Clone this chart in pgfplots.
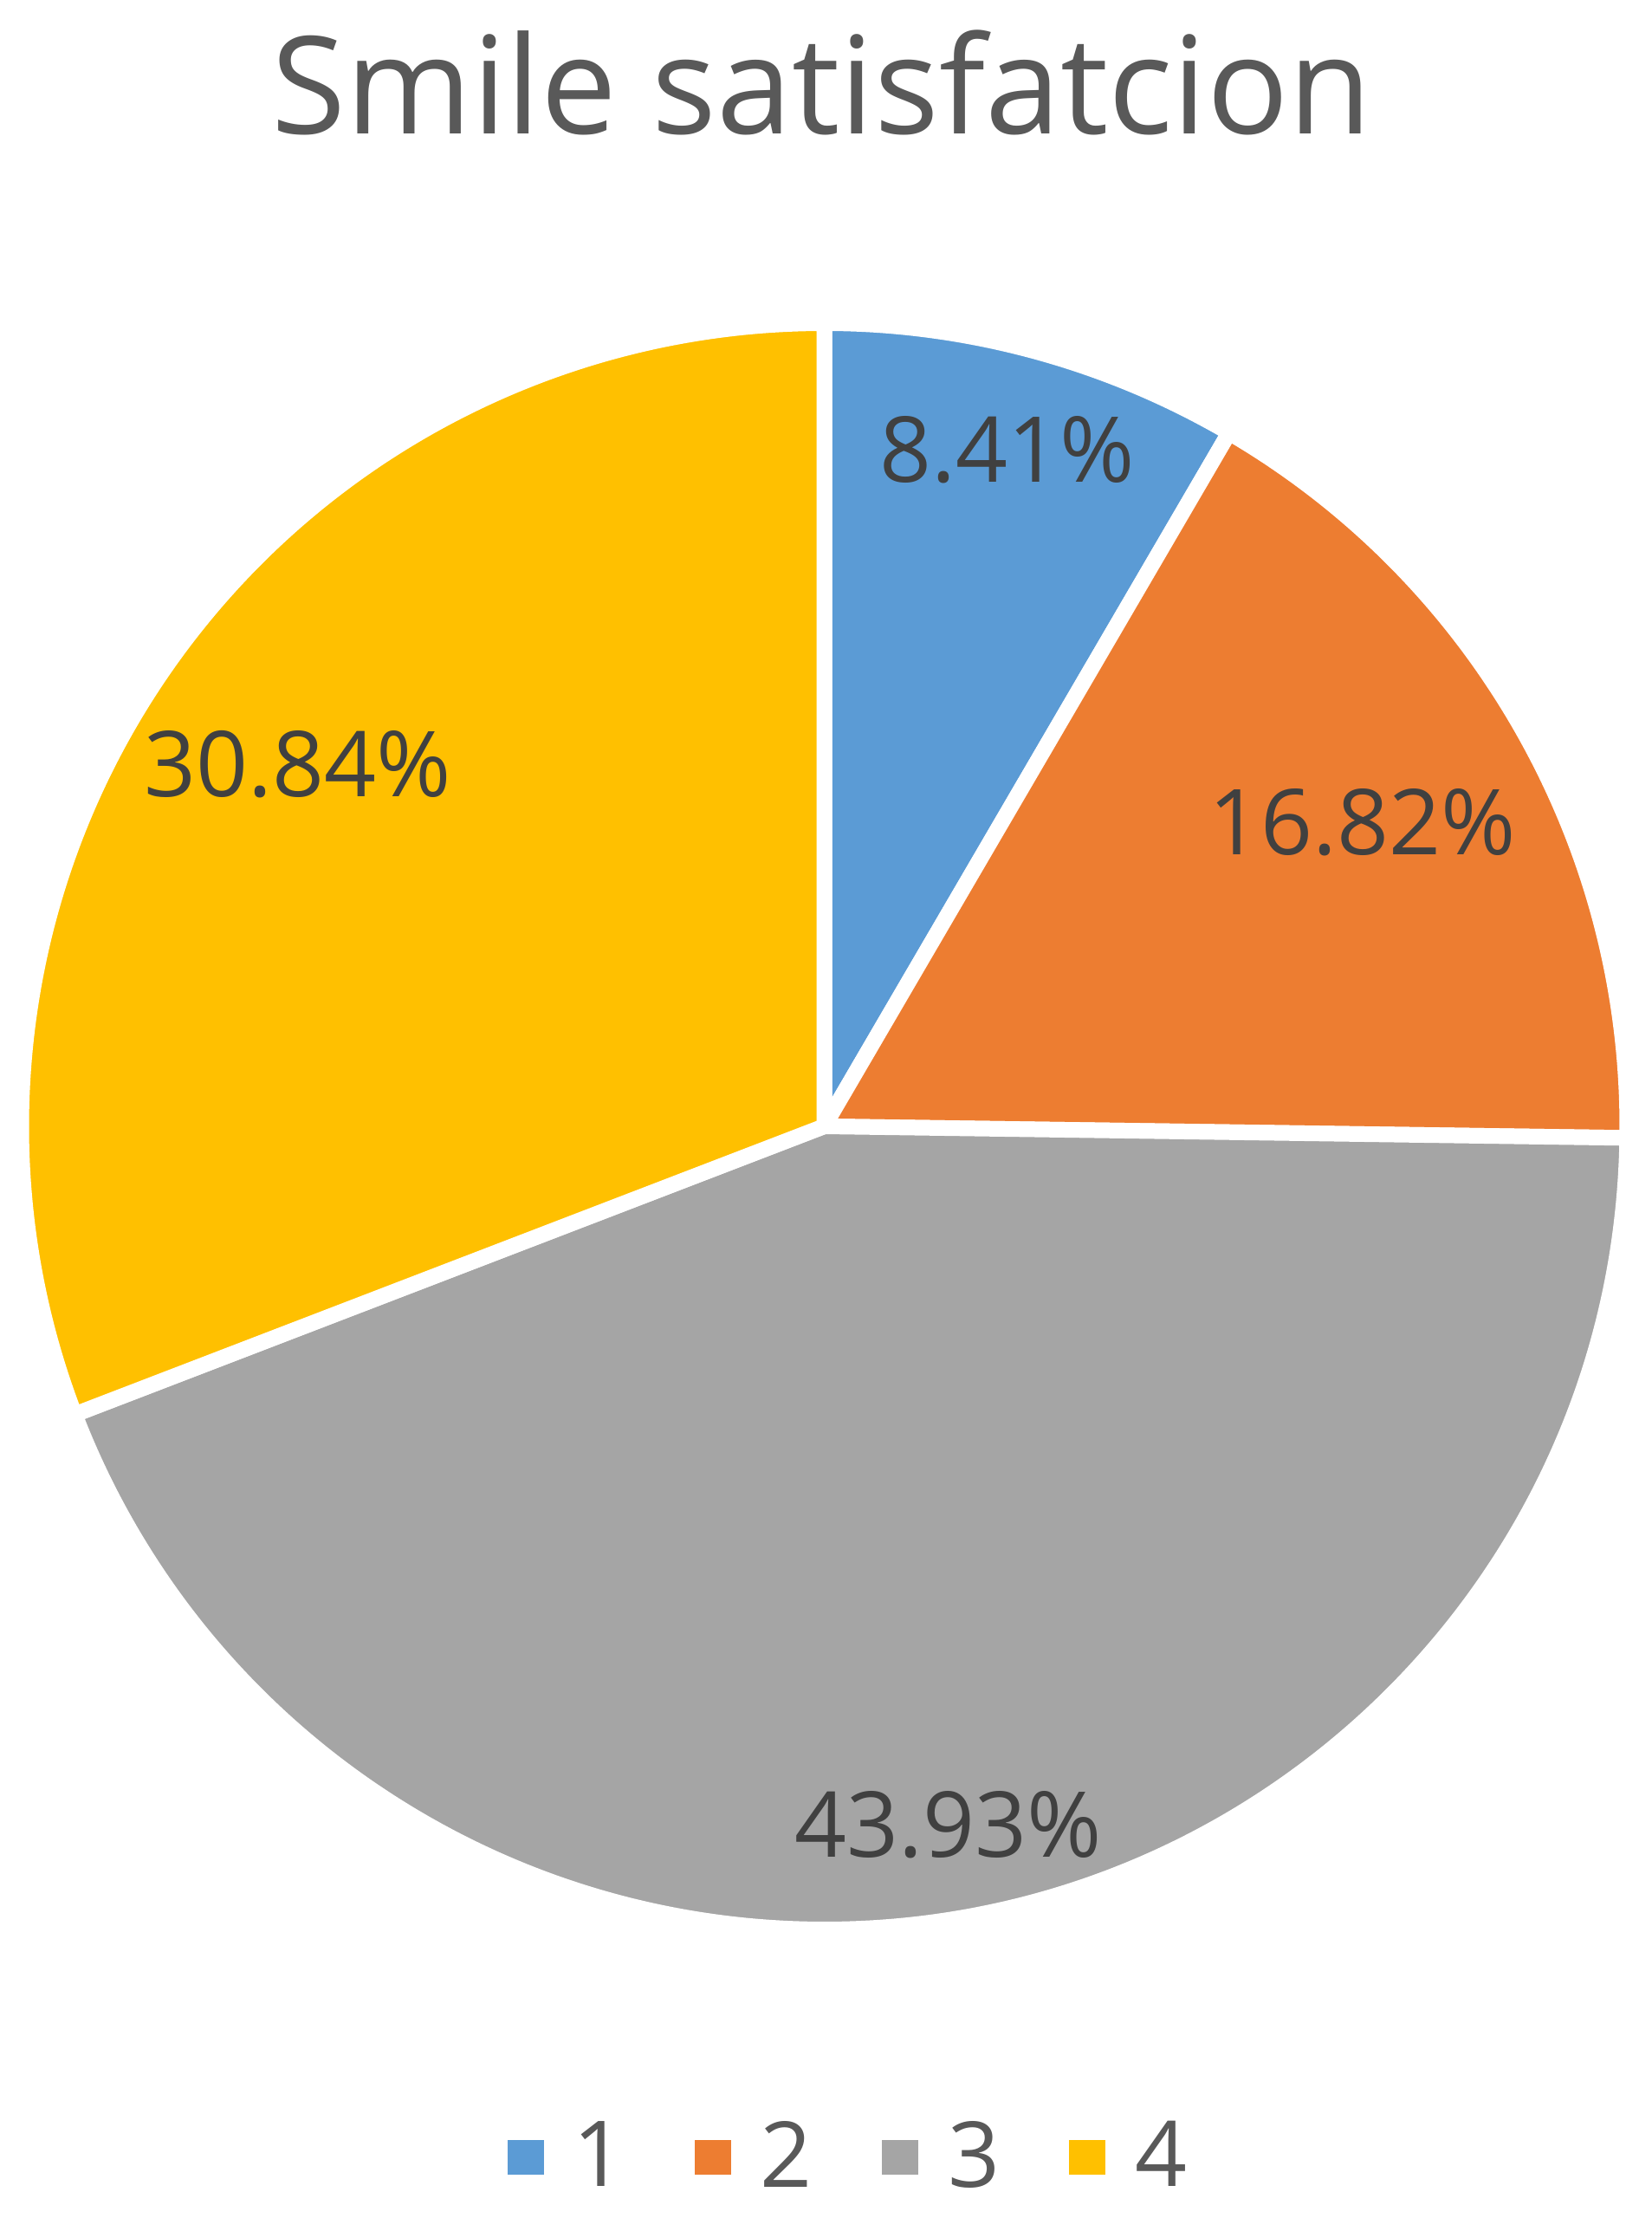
\documentclass[border=0pt]{standalone}
\usepackage{pgfplots}
\usepackage{pgfplotstable}
\usepackage{fontspec}
\pgfplotsset{compat=1.18}
\setmainfont{Open Sans}

\definecolor{c1}{HTML}{5B9BD5}
\definecolor{c2}{HTML}{ED7D31}
\definecolor{c3}{HTML}{A5A5A5}
\definecolor{c4}{HTML}{FFC000}
\definecolor{titlegray}{HTML}{595959}
\definecolor{labelgray}{HTML}{404040}

% share in percent, slice colour, label distance as fraction of radius
\pgfplotstableread{
share color lpos
8.41  c1 0.872
16.82 c2 0.770
43.93 c3 0.883
30.84 c4 0.796
}\piedata

\begin{document}
\begin{tikzpicture}
\begin{axis}[
    name=ax,
    width=381.2pt, height=512pt, scale only axis,
    xmin=0, xmax=1906, ymin=0, ymax=2560,
    hide axis, clip=false,
    legend columns=4,
    legend style={draw=none, fill=none, at={(axis cs:978,70)}, anchor=center,
        font=\fontsize{21}{24}\selectfont, text=titlegray,
        nodes={inner sep=0pt},
        /tikz/every even column/.append style={column sep=16pt}},
    legend image code/.code={
        \fill[#1, draw=none] (0pt,-4pt) rectangle (8.4pt,4pt);
        \path[draw=none, fill=none] (0pt,0pt) rectangle (15.2pt,0pt);},
]
\path (axis cs:0,0) rectangle (axis cs:1906,2560);
\addlegendimage{fill=c1}\addlegendentry{1}
\addlegendimage{fill=c2}\addlegendentry{2}
\addlegendimage{fill=c3}\addlegendentry{3}
\addlegendimage{fill=c4}\addlegendentry{4}

\node[anchor=base, text=titlegray, font=\fontsize{31.3}{36}\selectfont]
    at (axis cs:949,2405) {Smile satisfatcion};

\pgfplotsextra{
    \xdef\angA{90}
    \foreach \i in {0,...,3}{
        \pgfplotstablegetelem{\i}{share}\of\piedata
        \let\sh\pgfplotsretval
        \pgfplotstablegetelem{\i}{color}\of\piedata
        \let\col\pgfplotsretval
        \pgfplotstablegetelem{\i}{lpos}\of\piedata
        \let\lp\pgfplotsretval
        \pgfmathsetmacro\angB{\angA-3.6*\sh}
        \pgfmathsetmacro\angM{(\angA+\angB)/2}
        \pgfmathsetmacro\lr{\lp*185.4}
        \fill[fill=\col, draw=white, line width=3.6pt]
            (axis cs:951.5,1260) -- ++(\angA:185.4pt)
            arc[start angle=\angA, end angle=\angB, radius=185.4pt] -- cycle;
        \path (axis cs:951.5,1260) ++(\angM:\lr pt)
            node[text=labelgray, font=\fontsize{21}{24}\selectfont] {\sh\%};
        \xdef\angA{\angB}
    }
}
\end{axis}
\pgfresetboundingbox
\path (ax.south west) rectangle (ax.north east);
\end{tikzpicture}
\end{document}
